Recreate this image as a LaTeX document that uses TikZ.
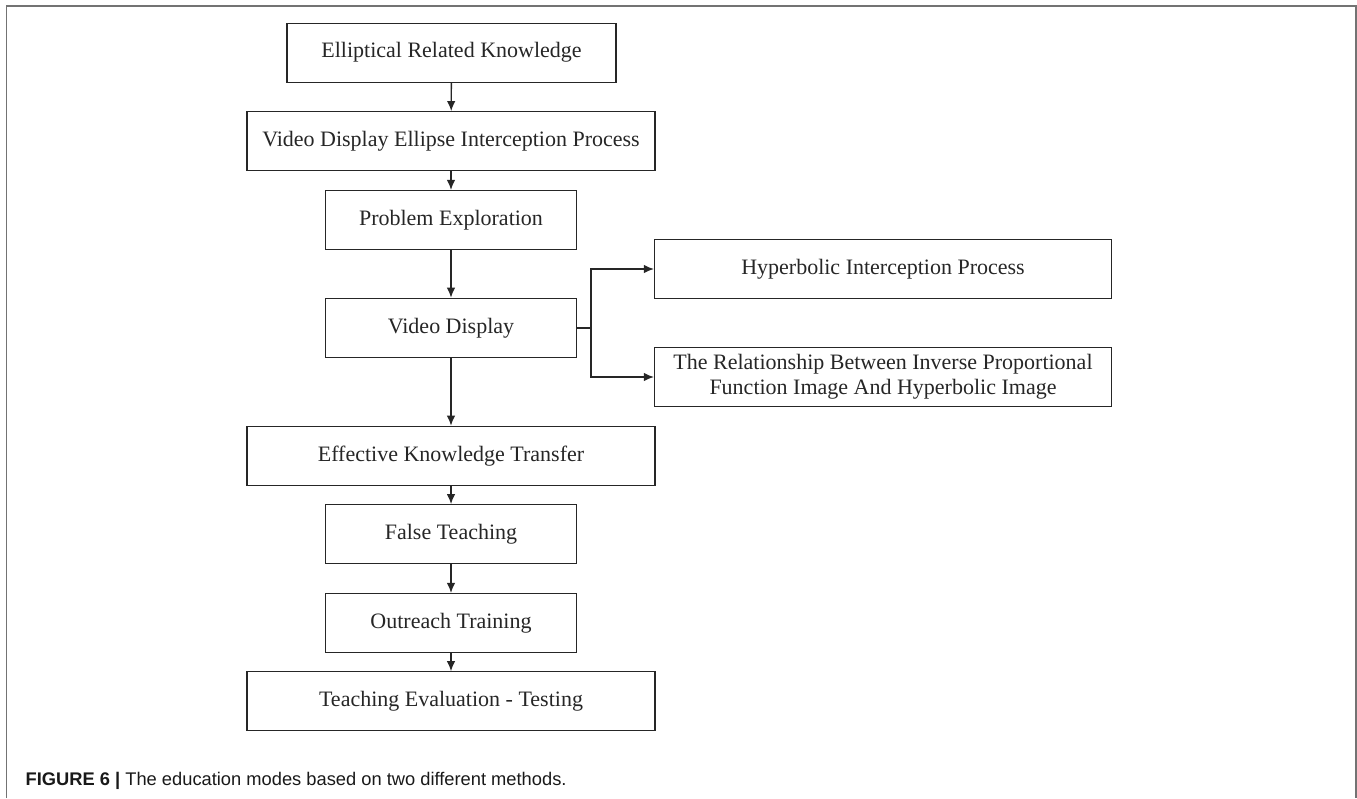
\documentclass[tikz,border=0pt]{standalone}
\usepackage{fontspec}
\setmainfont{Liberation Serif}
\setsansfont{Liberation Sans}
\usetikzlibrary{arrows.meta}

\tikzset{
  stepbox/.style={draw=black!85, line width=1.2, inner sep=0, text=black!85,
    minimum height=59, font=\fontsize{22}{25}\selectfont, align=center},
  wide/.style={stepbox, minimum width=408},
  narrow/.style={stepbox, minimum width=251},
  side/.style={stepbox, minimum width=457},
}

\begin{document}
\begin{tikzpicture}[>={Latex[length=10,width=8.5]},line width=1.4,x=1pt,y=-1pt]
\useasboundingbox (0,0) rectangle (1357,798);
\draw[black!55,line width=1.6] (6.5,798) -- (6.5,6) -- (1356,6) -- (1356,798);
% main column
\node[stepbox, minimum width=329] (erk) at (451.5,52.7) {Elliptical Related Knowledge};
\node[wide]   (vde) at (451,141.2) {Video Display Ellipse Interception Process};
\node[narrow] (pe)  at (451,220)   {Problem Exploration};
\node[narrow] (vd)  at (451,327.8) {Video Display};
\node[wide]   (ekt) at (451,455.8) {Effective Knowledge Transfer};
\node[narrow] (ft)  at (451,534.2) {False Teaching};
\node[narrow] (ot)  at (451,623)   {Outreach Training};
\node[wide]   (tev) at (451,701.3) {Teaching Evaluation - Testing};
% branch
\node[side] (hip) at (883,269) {Hyperbolic Interception Process};
\node[side] (rel) at (883,377) {The Relationship Between Inverse Proportional\\Function Image And Hyperbolic Image};
\coordinate (fork) at (591,327.8);
\foreach \a/\b in {erk/vde,vde/pe,pe/vd,vd/ekt,ekt/ft,ft/ot,ot/tev}
	\draw[->,black!85] (\a) -- (\b);
\draw[black!85] (vd) -- (fork);
\draw[->,black!85] (fork) |- (hip);
\draw[->,black!85] (fork) |- (rel);
% caption
\node[anchor=base west,inner sep=0,text=black!90,font=\sffamily\fontsize{18.3}{21}\selectfont] (cap) at (25,785)
	{\textbf{FIGURE 6 |} The education modes based on two different methods.};
\end{tikzpicture}
\end{document}
